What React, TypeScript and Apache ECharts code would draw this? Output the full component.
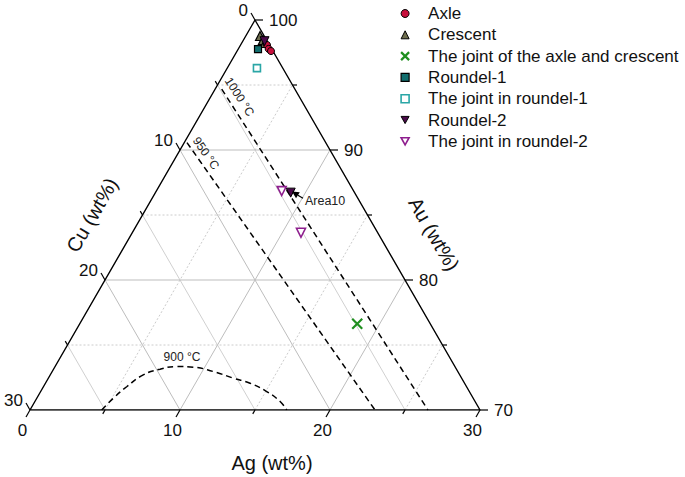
import React, { useEffect, useRef } from "react";
import * as echarts from "echarts";

const FONT = "'Liberation Sans', Arial, Helvetica, sans-serif";
const SQ3 = Math.sqrt(3);

// Axis tick values (wt%)
const AG_MAJOR = [0, 10, 20, 30];
const AG_MINOR = [5, 15, 25];
const CU_MAJOR = [0, 10, 20, 30];
const CU_MINOR = [5, 15, 25];
const AU_MAJOR = [70, 80, 90, 100];
const AU_MINOR = [75, 85, 95];

// Compositions as [Ag, Cu] wt% (Au = 100 - Ag - Cu)
const axle = [[1.76, 0.16], [2.02, 0.2], [2.26, 0.13]];
const crescent = [[0.95, 0.28], [1.3, 0.24], [1.55, 0.22]];
const jointAxleCrescent = [[18.5, 4.87]];
const roundel1 = [[1.32, 0.92]];
const jointRoundel1 = [[1.98, 1.72]];
const roundel2 = [[9.02, 4.26], [1.45, 0.18]];
const jointRoundel2 = [[8.36, 4.8], [11.25, 5.12]];

// Isotherms [Ag, Cu]
const iso1000 = [[0.44, 4.88], [26.53, 3.47]];
const iso950 = [[0.18, 9.25], [23.0, 7.0]];
const iso900 = [
  [4.78, 25.22], [5.1, 24.0], [5.55, 22.66], [6.2, 21.1], [7.1, 19.76],
  [8.11, 18.55], [9.24, 17.47], [10.74, 16.3], [12.33, 15.22], [13.64, 14.3],
  [15.07, 13.51], [16.35, 13.0], [17.11, 12.89],
];

// Triangle vertices [Ag, Cu]
const vertices = [[0, 30], [30, 0], [0, 0], [0, 30]];

// Annotations
const isoLabels = ["1000 °C", "950 °C", "900 °C"];
const isoLabelAt = [[1.92, 3.99], [1.86, 8.39], [8.09, 17.82]];
const isoLabelAngle = [-57, -55, 0];
const areaLabel = "Area10";
const areaLabelAt = [10.31, 3.65];
const areaArrow = [[10.06, 3.66], [9.06, 4.13]];

const toXY = (p: number[]) => [p[0] - p[1], (30 - p[0] - p[1]) * SQ3];

const X_PATH = "path://M0,0L10,10M10,0L0,10";
const DOWN_TRI = "path://M0,0L10,0L5,9Z";

function buildOption() {
  const gridLines: number[][] = [];
  [...CU_MAJOR.map((v) => [v, 1]), ...CU_MINOR.map((v) => [v, 0])].forEach(([v, m]) => {
    if (v <= 0 || v >= 30) return;
    gridLines.push([...toXY([0, v]), ...toXY([30 - v, v]), m ? 0 : 2]);
  });
  [...AG_MAJOR.map((v) => [v, 1]), ...AG_MINOR.map((v) => [v, 0])].forEach(([v, m]) => {
    if (v <= 0 || v >= 30) return;
    gridLines.push([...toXY([v, 30 - v]), ...toXY([v, 0]), m ? 0 : 1]);
  });
  [...AU_MAJOR.map((v) => [v, 1]), ...AU_MINOR.map((v) => [v, 0])].forEach(([u, m]) => {
    const s = 100 - u;
    if (s <= 0 || s >= 30) return;
    gridLines.push([...toXY([0, s]), ...toXY([s, 0]), m ? 0 : 1]);
  });

  const ticks: number[][] = [];
  const addTicks = (vals: number[], axis: number, major: number) =>
    vals.forEach((v) => {
      let p: number[];
      if (axis === 0) p = [v, 30 - v];
      else if (axis === 1) p = [0, v];
      else p = [100 - v, 0];
      ticks.push([...toXY(p), axis, v, major]);
    });
  addTicks(AG_MAJOR, 0, 1);
  addTicks(AG_MINOR, 0, 0);
  addTicks(CU_MAJOR, 1, 1);
  addTicks(CU_MINOR, 1, 0);
  addTicks(AU_MAJOR, 2, 1);
  addTicks(AU_MINOR, 2, 0);

  const gridStyles: any[] = [
    { stroke: "#bdbdbd", lineWidth: 1 },
    { stroke: "#cccccc", lineWidth: 1, lineDash: [2, 2] },
    { stroke: "#d0d0d0", lineWidth: 1 },
  ];

  const scatter = (name: string, data: number[][], symbol: string, size: number, itemStyle: any, z = 5) => ({
    type: "scatter",
    name,
    data: data.map(toXY),
    symbol,
    symbolSize: size,
    itemStyle: { opacity: 1, ...itemStyle },
    z,
    silent: true,
  });

  const annot = isoLabelAt.map((p, i) => [...toXY(p), i]);

  return {
    animation: false,
    grid: { left: 30, top: 20, width: 450, height: 390 },
    xAxis: { type: "value", min: -30, max: 30, show: false },
    yAxis: { type: "value", min: 0, max: 30 * SQ3, show: false },
    legend: {
      orient: "vertical",
      left: 400,
      top: 5,
      padding: 0,
      itemWidth: 8,
      itemHeight: 8,
      itemGap: 4.3,
      selectedMode: false,
      textStyle: { fontSize: 17, fontFamily: FONT, color: "#111", lineHeight: 17, padding: [0, 0, 0, 14] },
      data: [
        { name: "Axle", itemStyle: { borderWidth: 1, opacity: 1 } },
        { name: "Crescent", itemStyle: { borderWidth: 1, opacity: 1 } },
        { name: "The joint of the axle and crescent", itemStyle: { borderWidth: 2.2, opacity: 1 } },
        { name: "Roundel-1", itemStyle: { borderWidth: 1.2, opacity: 1 } },
        { name: "The joint in roundel-1", itemStyle: { borderWidth: 1.6, opacity: 1 } },
        { name: "Roundel-2", itemStyle: { borderWidth: 1, opacity: 1 } },
        { name: "The joint in roundel-2", itemStyle: { borderWidth: 1.6, opacity: 1 } },
      ],
    },
    graphic: [
      {
        type: "text", x: 272, y: 463,
        style: { text: "Ag (wt%)", fontSize: 20, fontFamily: FONT, fill: "#111", align: "center", verticalAlign: "middle" },
      },
      {
        type: "text", x: 92, y: 215, rotation: Math.PI / 3,
        style: { text: "Cu (wt%)", fontSize: 20, fontFamily: FONT, fill: "#111", align: "center", verticalAlign: "middle" },
      },
      {
        type: "text", x: 434, y: 234, rotation: -Math.PI / 3,
        style: { text: "Au (wt%)", fontSize: 20, fontFamily: FONT, fill: "#111", align: "center", verticalAlign: "middle" },
      },
    ],
    series: [
      {
        type: "custom",
        name: "grid",
        silent: true,
        z: 1,
        encode: { x: [0, 2], y: [1, 3] },
        data: gridLines,
        renderItem: (params: any, api: any) => {
          const p1 = api.coord([api.value(0), api.value(1)]);
          const p2 = api.coord([api.value(2), api.value(3)]);
          return {
            type: "line",
            shape: { x1: p1[0], y1: p1[1], x2: p2[0], y2: p2[1] },
            style: gridStyles[api.value(4)],
          };
        },
      },
      {
        type: "line",
        name: "frame",
        data: vertices.map(toXY),
        symbol: "none",
        lineStyle: { color: "#000", width: 1.4 },
        z: 3,
        silent: true,
      },
      {
        type: "custom",
        name: "ticks",
        silent: true,
        z: 3,
        encode: { x: 0, y: 1 },
        data: ticks,
        renderItem: (params: any, api: any) => {
          const p = api.coord([api.value(0), api.value(1)]);
          const axis = api.value(2);
          const v = api.value(3);
          const major = api.value(4);
          const len = major ? 8 : 4.5;
          const dir = axis === 0 ? [-0.5, 0.866] : axis === 1 ? [-0.5, -0.866] : [1, 0];
          const e = [p[0] + dir[0] * len, p[1] + dir[1] * len];
          const children: any[] = [
            { type: "line", shape: { x1: p[0], y1: p[1], x2: e[0], y2: e[1] }, style: { stroke: "#000", lineWidth: 1.2 } },
          ];
          if (major) {
            let tx: number, ty: number, align: string, va: string;
            if (axis === 0) { tx = e[0] - 3.5; ty = e[1] + 5; align = "center"; va = "top"; }
            else if (axis === 1) { tx = e[0] - 3; ty = e[1] - 3; align = "right"; va = "middle"; }
            else { tx = e[0] + 6; ty = e[1]; align = "left"; va = "middle"; }
            children.push({
              type: "text", x: tx, y: ty,
              style: { text: String(v), align, verticalAlign: va, fontSize: 17, fontFamily: FONT, fill: "#111" },
            });
          }
          return { type: "group", children };
        },
      },
      {
        type: "line", name: "1000", data: iso1000.map(toXY), symbol: "none", silent: true, z: 2,
        lineStyle: { color: "#000", width: 1.5, type: [6, 4] },
      },
      {
        type: "line", name: "950", data: iso950.map(toXY), symbol: "none", silent: true, z: 2,
        lineStyle: { color: "#000", width: 1.5, type: [6, 4] },
      },
      {
        type: "line", name: "900", data: iso900.map(toXY), symbol: "none", smooth: true, silent: true, z: 2,
        lineStyle: { color: "#000", width: 1.5, type: [6, 4] },
      },
      {
        type: "custom",
        name: "annotations",
        silent: true,
        z: 4,
        encode: { x: 0, y: 1 },
        data: annot,
        renderItem: (params: any, api: any) => {
          const p = api.coord([api.value(0), api.value(1)]);
          const i = api.value(2);
          return {
            type: "text", x: p[0], y: p[1], rotation: (isoLabelAngle[i] * Math.PI) / 180,
            style: { text: isoLabels[i], align: "center", verticalAlign: "middle", fontSize: 12, fontFamily: FONT, fill: "#222" },
          };
        },
      },
      {
        type: "custom",
        name: "area",
        silent: true,
        z: 4,
        encode: { x: 0, y: 1 },
        data: [toXY(areaLabelAt)],
        renderItem: (params: any, api: any) => {
          const p = api.coord([api.value(0), api.value(1)]);
          return {
            type: "text", x: p[0], y: p[1],
            style: { text: areaLabel, align: "left", verticalAlign: "middle", fontSize: 12.5, fontFamily: FONT, fill: "#222" },
          };
        },
      },
      {
        type: "custom",
        name: "arrow",
        silent: true,
        z: 7,
        encode: { x: [0, 2], y: [1, 3] },
        data: [[...toXY(areaArrow[0]), ...toXY(areaArrow[1])]],
        renderItem: (params: any, api: any) => {
          const a = api.coord([api.value(0), api.value(1)]);
          const b = api.coord([api.value(2), api.value(3)]);
          const dx = b[0] - a[0];
          const dy = b[1] - a[1];
          const L = Math.hypot(dx, dy) || 1;
          const ux = dx / L, uy = dy / L;
          const hl = 7, hw = 3.5;
          const base = [b[0] - ux * hl, b[1] - uy * hl];
          return {
            type: "group",
            children: [
              { type: "line", shape: { x1: a[0], y1: a[1], x2: base[0], y2: base[1] }, style: { stroke: "#000", lineWidth: 1.2 } },
              {
                type: "polygon",
                shape: { points: [[b[0], b[1]], [base[0] - uy * hw, base[1] + ux * hw], [base[0] + uy * hw, base[1] - ux * hw]] },
                style: { fill: "#000" },
              },
            ],
          };
        },
      },
      scatter("Crescent", crescent, "triangle", 9, { color: "#6e6e4e", borderColor: "#000", borderWidth: 1.2 }),
      scatter("Axle", axle, "circle", 7, { color: "#c8103c", borderColor: "#000", borderWidth: 1 }),
      scatter("The joint of the axle and crescent", jointAxleCrescent, X_PATH, 10, { color: "#1f8f1f", borderColor: "#1f8f1f", borderWidth: 2.2 }),
      scatter("Roundel-1", roundel1, "rect", 7, { color: "#126e6e", borderColor: "#000", borderWidth: 1.2 }),
      scatter("The joint in roundel-1", jointRoundel1, "rect", 7, { color: "#fff", borderColor: "#2aa6a6", borderWidth: 1.6 }),
      scatter("Roundel-2", roundel2, DOWN_TRI, 9, { color: "#4a0a4a", borderColor: "#000", borderWidth: 1 }),
      scatter("The joint in roundel-2", jointRoundel2, DOWN_TRI, 9, { color: "#fff", borderColor: "#8e1e8e", borderWidth: 1.6 }),
    ],
  };
}

export default function App() {
  const ref = useRef<HTMLDivElement>(null);
  useEffect(() => {
    document.body.style.margin = "0";
    const chart = echarts.init(ref.current as HTMLDivElement, null, { renderer: "svg" });
    chart.setOption(buildOption() as any);
    return () => chart.dispose();
  }, []);
  return (
    <div
      ref={ref}
      style={{ position: "absolute", left: 0, top: 0, width: 685, height: 477, background: "#fff" }}
    />
  );
}
